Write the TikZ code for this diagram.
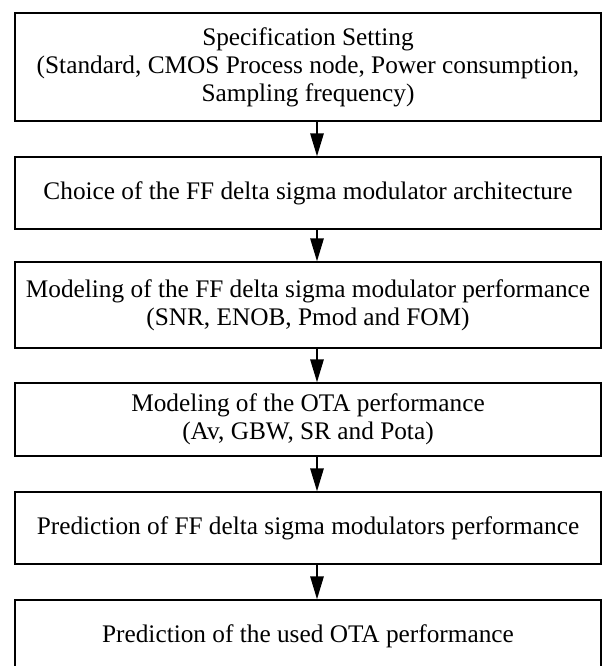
\documentclass[tikz,border=0pt]{standalone}
\usepackage{fontspec}
\setmainfont{Liberation Serif}
\usetikzlibrary{arrows.meta}
\begin{document}
\begin{tikzpicture}[x=1pt,y=-1pt,
  flowbox/.style={draw=black, line width=1.5pt, minimum width=586pt, align=center,
    inner sep=0pt, font=\fontsize{25.3}{28}\selectfont},
  flowarrow/.style={line width=1.5pt, -{Triangle[length=23pt,width=13.5pt]}}]
\useasboundingbox (0,0) rectangle (607,666);
\node[flowbox, minimum height=108pt] (b1) at (308,67) {Specification Setting\\(Standard, CMOS Process node, Power consumption,\\Sampling frequency)};
\node[flowbox, minimum height=72pt] (b2) at (308,193) {Choice of the FF delta sigma modulator architecture};
\node[flowbox, minimum height=86pt] (b3) at (308,305) {Modeling of the FF delta sigma modulator performance\\(SNR, ENOB, Pmod and FOM)};
\node[flowbox, minimum height=73pt] (b4) at (308,419.5) {Modeling of the OTA performance\\(Av, GBW, SR and Pota)};
\node[flowbox, minimum height=72pt] (b5) at (308,528) {Prediction of FF delta sigma modulators performance};
\node[flowbox, minimum height=72pt] (b6) at (308,636) {Prediction of the used OTA performance};
\coordinate (ax) at (317,0);
\draw[flowarrow] (b1.south -| ax) -- (b2.north -| ax);
\draw[flowarrow] (b2.south -| ax) -- (b3.north -| ax);
\draw[flowarrow] (b3.south -| ax) -- (b4.north -| ax);
\draw[flowarrow] (b4.south -| ax) -- (b5.north -| ax);
\draw[flowarrow] (b5.south -| ax) -- (b6.north -| ax);
\end{tikzpicture}
\end{document}
